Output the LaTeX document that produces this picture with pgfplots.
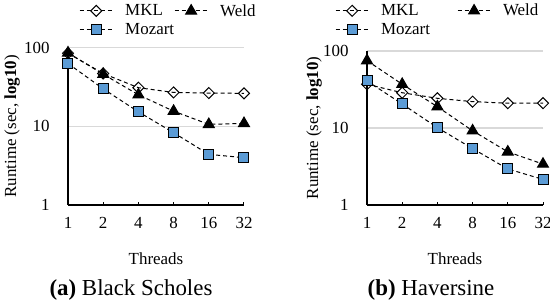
\documentclass[border=0pt]{standalone}
\usepackage{pgfplots}
\pgfplotsset{compat=1.18}
\usepackage{fontspec}
\setmainfont{Liberation Serif}
\definecolor{mzblue}{HTML}{5B9BD5}
\definecolor{gridgray}{HTML}{D9D9D9}
\newcommand{\myfs}{\rmfamily\fontsize{17}{20}\selectfont}
\tikzset{
  dl/.style={black, line width=1bp, dash pattern=on 4bp off 3bp},
}
\pgfplotsset{
  legend image code/.code={\draw[mark repeat=2,mark phase=2,#1] plot coordinates {(0bp,0bp) (16.5bp,0bp) (33bp,0bp)};},
}
\begin{document}
\begin{tikzpicture}
\path[use as bounding box] (0,0) rectangle (550bp,306bp);
\begin{axis}[at={(68bp,101bp)}, anchor=south west, height=157.3bp,
    scale only axis, width=176bp,
    ymode=log, ymin=1, ymax=100, xmin=0, xmax=5,
    xtick={0,1,2,3,4,5}, xticklabels={\textrm{1},\textrm{2},\textrm{4},\textrm{8},\textrm{16},\textrm{32}},
    ytick={1,10,100}, yticklabels={\textrm{1}\hspace{5bp},\textrm{10}\hspace{5bp},\textrm{100}\hspace{5bp}},
    axis x line*=bottom, axis y line*=left,
    axis line style={line width=1.3bp, black},
    ymajorgrids, major grid style={gridgray, line width=1.3bp},
    tick align=inside,
    y tick style={draw=none}, minor y tick style={draw=none},
    x tick style={black, line width=1bp}, major tick length=3.5bp,
    /pgf/number format/assume math mode=true,
    tick label style={font=\myfs},
    label style={font=\myfs},
    yticklabel style={xshift=-15bp},
    xticklabel style={yshift=-9bp},
    xlabel=Threads, ylabel={Runtime (sec, \textbf{log10})},
    clip=false,
    legend columns=2,
    legend cell align=left,
    legend style={draw=none, fill=none, inner sep=0pt, font=\myfs, anchor=north west, row sep=2bp,
      nodes={inner xsep=0pt},
      at={(axis description cs:-0.085,1.29)}, xshift=26bp,
      /tikz/every odd column/.append style={column sep=12bp},
      /tikz/every even column/.append style={column sep=0bp}},
  xlabel style={at={(axis description cs:0.5,-0.343)}, anchor=center},
  ylabel style={at={(axis description cs:-0.318,0.5)}, anchor=center}]
\addplot[dl, mark=square, mark size=3.9bp, mark options={solid, rotate=45, fill=white, draw=black, line width=1bp}] coordinates {(0,85) (1,47) (2,31) (3,27) (4,26.5) (5,26.3)};
\addplot[dl, mark=triangle*, mark size=6.3bp, mark options={solid, fill=black, draw=black}] coordinates {(0,86) (1,46) (2,25.2) (3,15.6) (4,10.6) (5,10.9)};
\addplot[dl, mark=square*, mark size=5bp, mark options={solid, fill=mzblue, draw=black, line width=1bp}] coordinates {(0,63) (1,30) (2,15.3) (3,8.3) (4,4.4) (5,4.0)};
\legend{MKL,Weld,Mozart}
\end{axis}
\begin{axis}[at={(367bp,101bp)}, anchor=south west, height=154bp,
    scale only axis, width=176bp,
    ymode=log, ymin=1, ymax=100, xmin=0, xmax=5,
    xtick={0,1,2,3,4,5}, xticklabels={\textrm{1},\textrm{2},\textrm{4},\textrm{8},\textrm{16},\textrm{32}},
    ytick={1,10,100}, yticklabels={\textrm{1}\hspace{5bp},\textrm{10}\hspace{5bp},\textrm{100}\hspace{5bp}},
    axis x line*=bottom, axis y line*=left,
    axis line style={line width=1.3bp, black},
    ymajorgrids, major grid style={gridgray, line width=1.3bp},
    tick align=inside,
    y tick style={draw=none}, minor y tick style={draw=none},
    x tick style={black, line width=1bp}, major tick length=3.5bp,
    /pgf/number format/assume math mode=true,
    tick label style={font=\myfs},
    label style={font=\myfs},
    yticklabel style={xshift=-15bp},
    xticklabel style={yshift=-9bp},
    xlabel=Threads, ylabel={Runtime (sec, \textbf{log10})},
    clip=false,
    legend columns=2,
    legend cell align=left,
    legend style={draw=none, fill=none, inner sep=0pt, font=\myfs, anchor=north west, row sep=2bp,
      nodes={inner xsep=0pt},
      at={(axis description cs:-0.199,1.318)}, xshift=3bp,
      /tikz/every odd column/.append style={column sep=12bp},
      /tikz/every even column/.append style={column sep=27bp}},
  xlabel style={at={(axis description cs:0.5,-0.351)}, anchor=center},
  ylabel style={at={(axis description cs:-0.30,0.5)}, anchor=center}]
\addplot[dl, mark=square, mark size=3.9bp, mark options={solid, rotate=45, fill=white, draw=black, line width=1bp}] coordinates {(0,37) (1,28.7) (2,24.3) (3,22) (4,21) (5,21)};
\addplot[dl, mark=triangle*, mark size=6.3bp, mark options={solid, fill=black, draw=black}] coordinates {(0,75) (1,37) (2,18.9) (3,9.2) (4,4.9) (5,3.4)};
\addplot[dl, mark=square*, mark size=5bp, mark options={solid, fill=mzblue, draw=black, line width=1bp}] coordinates {(0,40.8) (1,20.5) (2,10.1) (3,5.4) (4,2.94) (5,2.15)};
\legend{MKL,Weld,Mozart}
\end{axis}
\node[font=\fontsize{23}{26}\selectfont, anchor=base] at (131bp,11bp) {\textbf{(a)} Black Scholes};
\node[font=\fontsize{23}{26}\selectfont, anchor=base] at (431bp,11bp) {\textbf{(b)} Haversine};
\end{tikzpicture}
\end{document}
